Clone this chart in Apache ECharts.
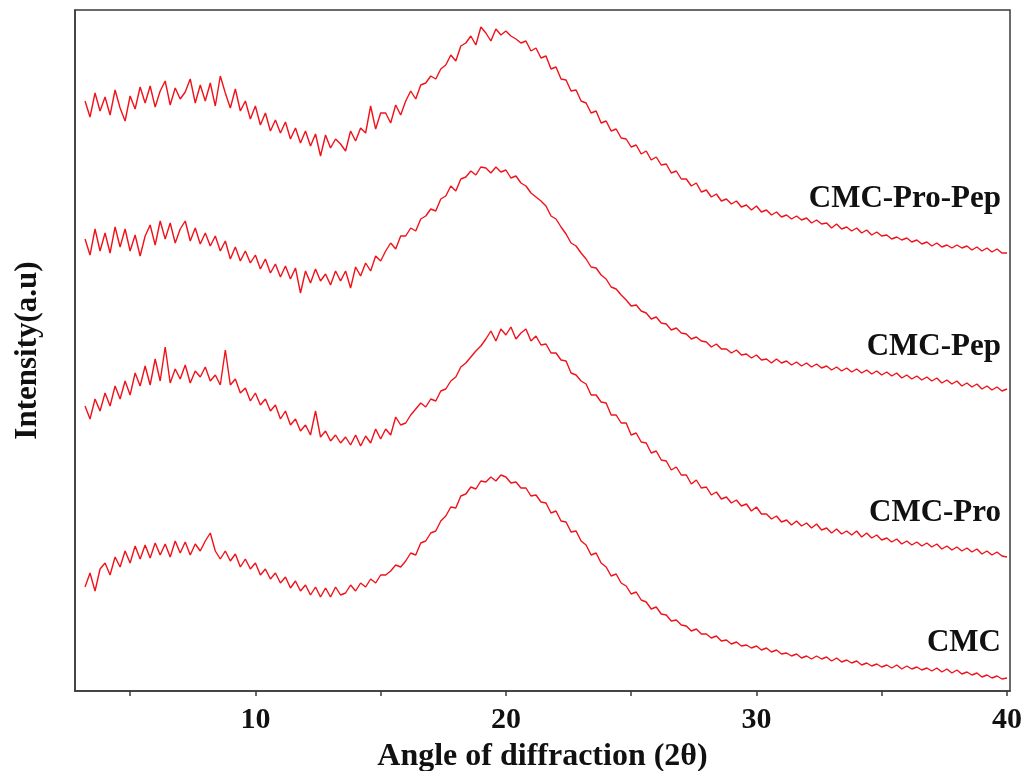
<!DOCTYPE html>
<html>
<head>
<meta charset="utf-8">
<title>XRD patterns</title>
<script src="https://cdn.jsdelivr.net/npm/echarts@6/dist/echarts.min.js"></script>
<style>
  html, body { margin: 0; padding: 0; background: #fff; }
  #chart { width: 1024px; height: 771px; }
</style>
</head>
<body>
<div id="chart"></div>
<script>
// scan grid: 2θ from 3.2° in 0.2° steps
const angleStart = 3.2
const angleStep = 0.2

const seriesNames = ['CMC-Pro-Pep', 'CMC-Pep', 'CMC-Pro', 'CMC']

// intensities (a.u., stacked offsets as in the figure)
const cmcProPep = [
  590,574,598,580, 594,576,601,583, 570,595,582,604, 588,605,584,600, 610,586,603,592, 599,612,588,606, 590,608,585,615, 598,583,602,580, 590,572,585,566, 578,560,571,558,
  569,552,563,548, 560,545,557,535, 556,543,552,547, 540,560,550,563, 558,585,562,578, 578,568,586,576, 590,600,592,606, 608,615,612,622, 626,636,630,645, 648,655,646,664,
  658,650,662,656, 660,655,652,648, 650,640,643,633, 635,622,624,612, 611,600,601,590, 588,578,580,568, 570,560,562,553, 552,544,546,537, 540,531,534,526, 527,518,520,512,
  512,505,508,499, 501,494,497,490, 492,487,490,484, 486,481,485,479, 481,476,479,474, 476,472,475,471, 473,468,471,467, 468,463,467,462, 464,460,463,458, 461,456,459,455,
  456,452,454,451, 453,449,451,447, 449,445,448,444, 446,443,446,443, 445,441,444,440, 443,439,442,438,
  438
]
const cmcPep = [
  452,436,462,440, 458,438,464,444, 462,440,456,435, 455,466,446,470, 452,468,448,462, 470,450,463,447, 458,445,455,440, 450,432,444,430, 440,428,436,422, 432,418,427,414,
  425,412,423,398, 420,408,422,410, 417,406,420,410, 420,403,424,415, 428,420,435,430, 440,448,442,455, 455,463,460,472, 475,482,480,492, 495,505,500,512, 514,520,516,524,
  523,518,524,519, 521,513,515,508, 505,498,494,490, 485,475,472,464, 457,448,445,438, 432,424,423,416, 412,404,402,396, 391,385,386,380, 378,372,374,368, 367,361,363,358,
  357,352,354,350, 349,344,347,342, 342,338,341,336, 337,333,336,331, 332,328,332,328, 330,326,329,325, 328,324,327,323, 325,321,324,320, 323,319,322,318, 321,317,320,316,
  319,315,318,313, 316,312,315,311, 314,310,313,308, 311,307,310,305, 308,304,307,302, 305,301,304,300,
  302
]
const cmcPro = [
  285,272,292,280, 298,285,305,292, 310,296,318,305, 325,306,332,310, 344,308,322,312, 326,308,320,314, 324,310,316,306, 341,306,312,298, 303,290,298,286, 292,280,286,272,
  280,266,272,260, 266,256,280,254, 260,250,256,248, 254,246,256,245, 255,248,262,252, 262,256,274,266, 268,276,282,288, 284,292,290,300, 302,310,314,324, 328,334,340,345,
  352,360,350,362, 356,364,352,358, 362,350,355,346, 347,338,338,331, 330,318,316,310, 307,296,296,289, 288,276,276,268, 268,256,258,249, 248,238,240,231, 230,221,224,216,
  216,207,211,203, 204,196,199,192, 194,188,191,185, 187,180,184,177, 177,172,175,169, 171,166,170,165, 168,163,167,161, 163,158,162,157, 160,156,160,154, 158,153,156,151,
  153,149,152,147, 150,146,149,145, 148,144,147,142, 145,141,144,140, 143,139,142,137, 140,136,139,135,
  134
]
const cmc = [
  104,118,100,122, 128,116,134,124, 140,128,145,132, 146,133,148,136, 147,134,150,138, 149,136,147,140, 150,158,140,132, 140,130,137,124, 132,122,128,116, 122,112,118,108,
  114,103,110,100, 106,96,104,94, 103,94,104,96, 98,106,100,108, 104,112,108,116, 116,120,126,124, 130,138,136,148, 150,158,160,170, 175,184,183,195, 197,204,202,210,
  209,214,210,216, 214,208,209,203, 203,195,196,189, 188,178,180,170, 169,159,160,150, 146,136,138,128, 124,115,117,108, 105,97,99,91, 89,82,84,77, 76,70,71,66,
  65,60,62,57, 57,53,55,50, 51,47,49,45, 46,43,45,41, 43,39,41,37, 38,35,37,33, 35,32,35,32, 34,30,33,29, 31,28,30,26, 28,25,27,24,
  26,23,26,22, 25,22,24,21, 23,20,23,19, 22,18,21,17, 19,16,18,14, 16,13,15,12,
  13
]

const xLabelTicks = [10, 20, 30, 40]
const xTickValues = [5, 10, 15, 20, 25, 30, 35, 40]

// label text positions beside each curve end
const labelY = [199, 347, 513, 643]

const serifFont = '"Liberation Serif", "Times New Roman", serif'

const toPairs = (vals) => vals.map((v, i) => [+(angleStart + i * angleStep).toFixed(2), v])

const allSeries = [cmcProPep, cmcPep, cmcPro, cmc]

const chart = echarts.init(document.getElementById('chart'))

const option = {
  animation: false,
  backgroundColor: '#fff',
  grid: {
    left: 75,
    right: 14,
    top: 10,
    bottom: 80,
    containLabel: false,
    outerBoundsMode: 'none',
    show: true,
    borderColor: '#3a3a3a',
    borderWidth: 1.5,
    backgroundColor: 'transparent'
  },
  xAxis: {
    type: 'value',
    min: 2.8,
    max: 40.12,
    name: 'Angle of diffraction (2θ)',
    nameLocation: 'middle',
    nameGap: 50,
    nameTextStyle: {
      fontFamily: serifFont,
      fontWeight: 'bold',
      fontSize: 32,
      color: '#111'
    },
    axisLine: {lineStyle: {color: '#3a3a3a', width: 1.5}},
    axisTick: {
      show: true,
      inside: false,
      length: 5,
      customValues: xTickValues,
      lineStyle: {color: '#3a3a3a', width: 1.5}
    },
    axisLabel: {
      customValues: xLabelTicks,
      margin: 14,
      fontFamily: serifFont,
      fontWeight: 'bold',
      fontSize: 30,
      color: '#111'
    },
    splitLine: {show: false}
  },
  yAxis: {
    type: 'value',
    min: 0,
    max: 681,
    name: 'Intensity(a.u)',
    nameLocation: 'middle',
    nameGap: 32,
    nameTextStyle: {
      fontFamily: serifFont,
      fontWeight: 'bold',
      fontSize: 31,
      color: '#111'
    },
    axisLine: {show: true, lineStyle: {color: '#3a3a3a', width: 1.5}},
    axisTick: {show: false},
    axisLabel: {show: false},
    splitLine: {show: false}
  },
  series: allSeries.map((vals, i) => ({
    name: seriesNames[i],
    type: 'line',
    data: toPairs(vals),
    showSymbol: false,
    smooth: false,
    lineStyle: {color: '#f0121a', width: 1.4},
    z: 2
  })),
  graphic: seriesNames.map((name, i) => ({
    type: 'text',
    right: 23,
    top: labelY[i] - 16,
    style: {
      text: name,
      font: 'bold 31px ' + serifFont,
      fill: '#111'
    },
    z: 10
  }))
}

chart.setOption(option)
</script>
</body>
</html>
